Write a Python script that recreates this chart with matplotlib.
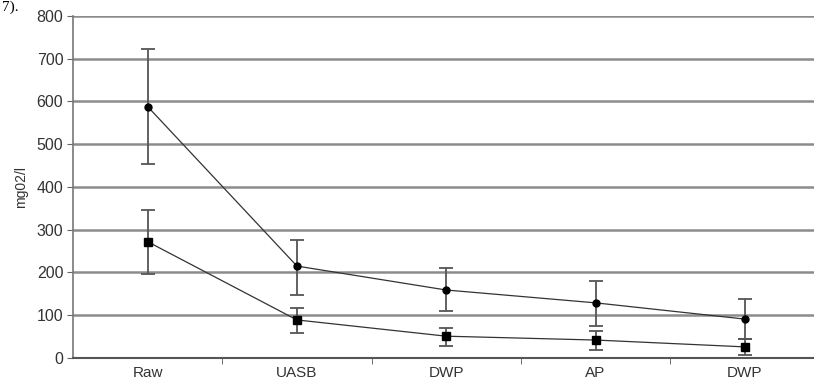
import matplotlib.pyplot as plt
import numpy as np

plt.rcParams['font.family'] = ['Liberation Sans', 'DejaVu Sans']

stages = ['Raw', 'UASB', 'DWP', 'AP', 'DWP']

# upper series (circles)
upper = [588, 215, 159, 129, 91]
upper_hi = [723, 276, 210, 180, 138]
upper_lo = [453, 147, 110, 75, 44]

# lower series (squares)
lower = [272, 89, 51, 42, 26]
lower_hi = [345, 117, 70, 63, 44]
lower_lo = [196, 58, 28, 19, 7]

y_ticks = [0, 100, 200, 300, 400, 500, 600, 700, 800]


def draw(ax, x, y, hi, lo, marker, ms):
    y = np.array(y)
    err = [y - np.array(lo), np.array(hi) - y]
    ax.errorbar(x, y, yerr=err, fmt='none', ecolor='#555555', elinewidth=1.3,
                capsize=5, capthick=1.3, zorder=3)
    ax.plot(x, y, color='#333333', lw=0.9, marker=marker, ms=ms,
            mfc='black', mec='black', zorder=4)


fig = plt.figure(figsize=(8.14, 3.83), dpi=100)
ax = fig.add_axes([0.0897, 0.0653, 0.917, 0.893])

x = np.arange(len(stages))
draw(ax, x, upper, upper_hi, upper_lo, 'o', 5)
draw(ax, x, lower, lower_hi, lower_lo, 's', 6)

ax.set_xlim(-0.5, 4.5)
ax.set_ylim(0, 800)
ax.set_yticks(y_ticks)
ax.set_xticks(x)
ax.set_xticklabels(stages)
ax.set_xticks(np.arange(0.5, 4, 1), minor=True)
ax.tick_params(axis='x', which='major', length=0, pad=6, labelsize=11, labelcolor='#333333')
ax.tick_params(axis='x', which='minor', length=4, color='#555555', direction='out')
ax.tick_params(axis='y', length=4, color='#666666', labelsize=11.5, labelcolor='#333333', pad=3)
ax.set_ylabel('mg02/l', fontsize=10, color='#333333', labelpad=6)

ax.yaxis.grid(True, color='#8c8c8c', lw=1.8)
ax.set_axisbelow(True)
for s in ['top', 'right']:
    ax.spines[s].set_visible(False)
ax.spines['left'].set_color('#777777')
ax.spines['left'].set_linewidth(1.2)
ax.spines['bottom'].set_color('#555555')
ax.spines['bottom'].set_linewidth(1.5)

fig.text(0.002, 0.998, '7).', fontsize=11, family='Liberation Serif', va='top', ha='left')

fig.savefig('out.png', dpi=100)
